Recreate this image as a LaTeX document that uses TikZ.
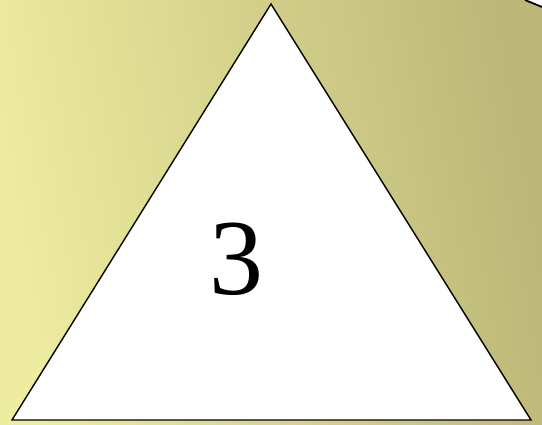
\documentclass[tikz,border=0pt]{standalone}
\usepackage{fontspec}
\setmainfont{Liberation Serif}
\definecolor{paleolive}{RGB}{238,236,160}
\definecolor{darkolive}{RGB}{188,183,120}

\begin{document}
\begin{tikzpicture}[x=1pt,y=1pt]
\useasboundingbox (0,0) rectangle (542,425);
% background
\shade[left color=paleolive, right color=darkolive, shading angle=100] (0,0) -- (542,0) -- (542,418) -- (525,425) -- (0,425) -- cycle;
\draw[black, line width=1.8pt] (542,418) -- (525,425);
% triangle
\coordinate (apex) at (271,421);
\coordinate (bl) at (12,5);
\coordinate (br) at (531,5);
\draw[fill=white, draw=black, line width=1.4pt, line join=miter] (apex) -- (br) -- (bl) -- cycle;
\node[font=\fontsize{108}{108}\selectfont, text=black] (num) at (236,166) {3};
\end{tikzpicture}
\end{document}
